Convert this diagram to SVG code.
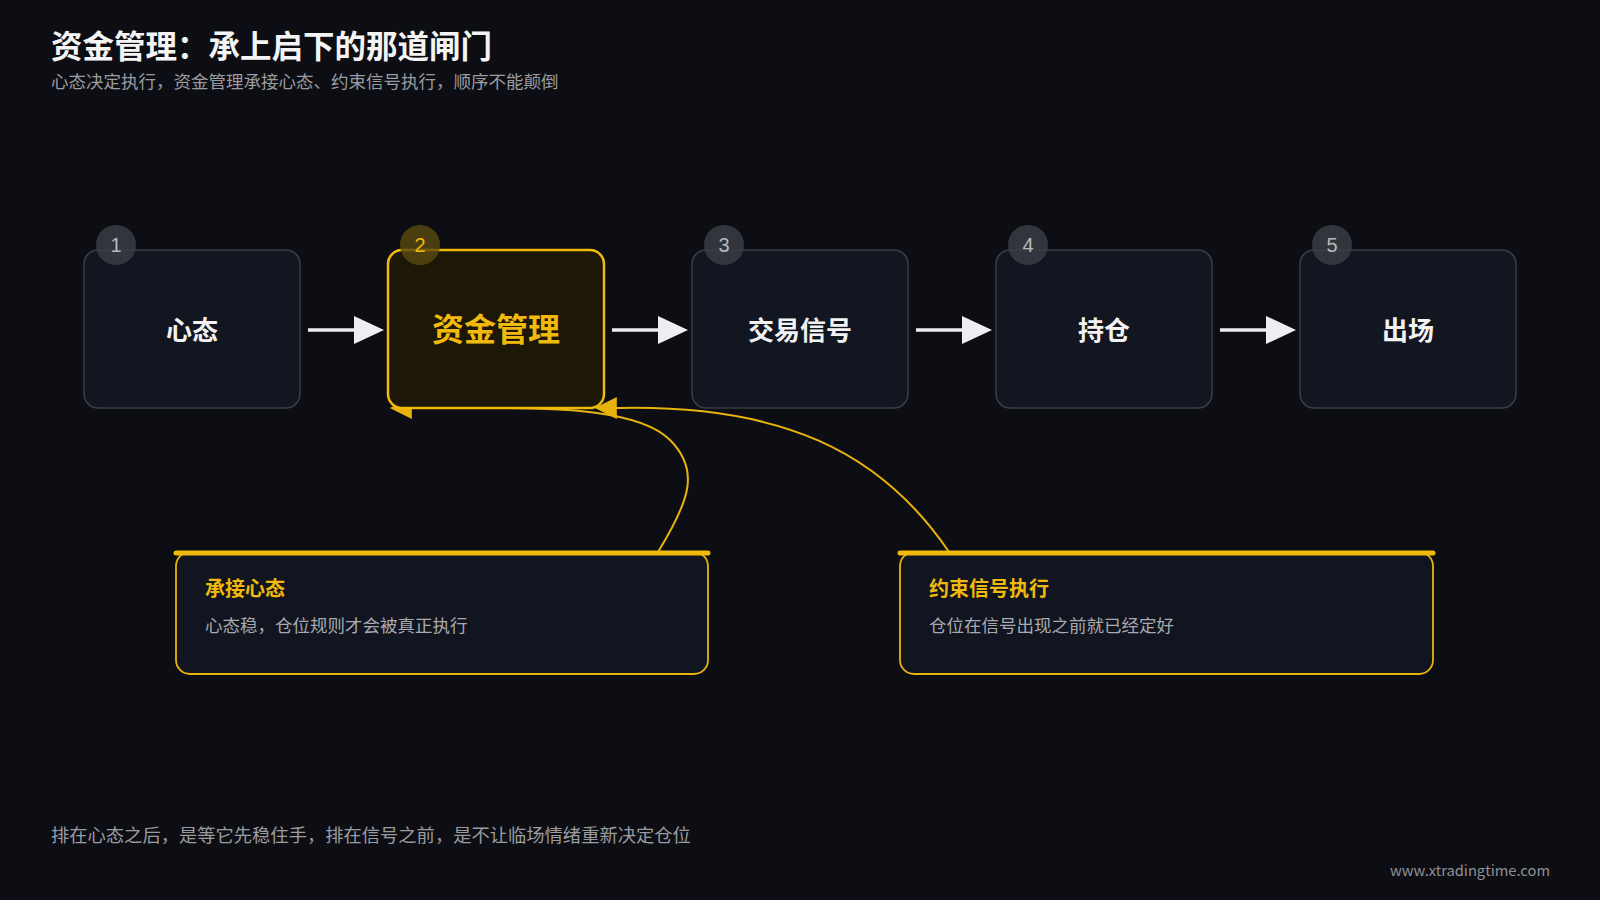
<svg xmlns="http://www.w3.org/2000/svg" width="1600" height="900" viewBox="0 0 1600 900">
<style>
text{font-family:"Noto Sans CJK SC","Liberation Sans",sans-serif}
.node{fill:#121620;stroke:#3a3d46;stroke-width:1.5}
.lbl{fill:#f2f2f2;font-size:26px;font-weight:700;text-anchor:middle}
.badge{fill:#3a3c44;opacity:.85}
.bn{fill:#b8b8bc;font-size:20px;text-anchor:middle;font-family:"Liberation Sans",sans-serif}
.arr{stroke:#eceef2;stroke-width:3.5;fill:none}
.cur{stroke:#e8b30c;stroke-width:2;fill:none}
.call{fill:#111520;stroke:#e8b30c;stroke-width:1.8}
.ct{fill:#f0b90b;font-size:20px;font-weight:700}
.cd{fill:#a8aab0;font-size:17.5px}
</style>
<defs>
<marker id="ya" viewBox="0 0 10 10" refX="9" refY="5" markerWidth="26" markerHeight="22" orient="auto" markerUnits="userSpaceOnUse"><path d="M0 0L10 5L0 10Z" fill="#e8b30c"/></marker>
</defs>
<rect width="1600" height="900" fill="#0d0e13"/>
<text x="51" y="58" font-size="31.5" font-weight="700" fill="#f4f4f4">资金管理：承上启下的那道闸门</text>
<text x="51" y="88" font-size="17.5" fill="#9a9ca2">心态决定执行，资金管理承接心态、约束信号执行，顺序不能颠倒</text>
<g id="connectors">
<line class="arr" x1="308" y1="330" x2="370" y2="330"/><path d="M354 316L384 330L354 344Z" fill="#eceef2"/>
<line class="arr" x1="612" y1="330" x2="674" y2="330"/><path d="M658 316L688 330L658 344Z" fill="#eceef2"/>
<line class="arr" x1="916" y1="330" x2="978" y2="330"/><path d="M962 316L992 330L962 344Z" fill="#eceef2"/>
<line class="arr" x1="1220" y1="330" x2="1282" y2="330"/><path d="M1266 316L1296 330L1266 344Z" fill="#eceef2"/>
<path class="cur" d="M658 552C690 500 700 470 670 440C640 410 560 408 490 408L392 408" marker-end="url(#ya)"/>
<path class="cur" d="M949 552C880 450 780 405 620 408L597 408" marker-end="url(#ya)"/>
</g>
<g id="n1"><rect class="node" x="84" y="250" width="216" height="158" rx="14"/><circle class="badge" cx="116" cy="245" r="20"/><text class="bn" x="116" y="252">1</text><text class="lbl" x="192" y="340">心态</text></g>
<g id="n2"><rect x="388" y="250" width="216" height="158" rx="14" fill="#1c1706" stroke="#f0b90b" stroke-width="2.5"/><circle cx="420" cy="245" r="20" fill="#5a4a10" opacity=".8"/><text class="bn" x="420" y="252" style="fill:#f0b90b">2</text><text x="496" y="341" font-size="32" font-weight="700" fill="#f0b90b" text-anchor="middle">资金管理</text></g>
<g id="n3"><rect class="node" x="692" y="250" width="216" height="158" rx="14"/><circle class="badge" cx="724" cy="245" r="20"/><text class="bn" x="724" y="252">3</text><text class="lbl" x="800" y="340">交易信号</text></g>
<g id="n4"><rect class="node" x="996" y="250" width="216" height="158" rx="14"/><circle class="badge" cx="1028" cy="245" r="20"/><text class="bn" x="1028" y="252">4</text><text class="lbl" x="1104" y="340">持仓</text></g>
<g id="n5"><rect class="node" x="1300" y="250" width="216" height="158" rx="14"/><circle class="badge" cx="1332" cy="245" r="20"/><text class="bn" x="1332" y="252">5</text><text class="lbl" x="1408" y="340">出场</text></g>
<g id="c1"><rect class="call" x="176" y="552" width="532" height="122" rx="14"/><line x1="176" y1="553" x2="708" y2="553" stroke="#f0b90b" stroke-width="5" stroke-linecap="round"/><text class="ct" x="205" y="596">承接心态</text><text class="cd" x="205" y="632">心态稳，仓位规则才会被真正执行</text></g>
<g id="c2"><rect class="call" x="900" y="552" width="533" height="122" rx="14"/><line x1="900" y1="553" x2="1433" y2="553" stroke="#f0b90b" stroke-width="5" stroke-linecap="round"/><text class="ct" x="929" y="596">约束信号执行</text><text class="cd" x="929" y="632">仓位在信号出现之前就已经定好</text></g>
<text x="51" y="842" font-size="18.3" fill="#9a9ca2">排在心态之后，是等它先稳住手，排在信号之前，是不让临场情绪重新决定仓位</text>
<text x="1550" y="876" font-size="14.7" fill="#8e9096" text-anchor="end" font-family="Liberation Sans,sans-serif">www.xtradingtime.com</text>
</svg>
